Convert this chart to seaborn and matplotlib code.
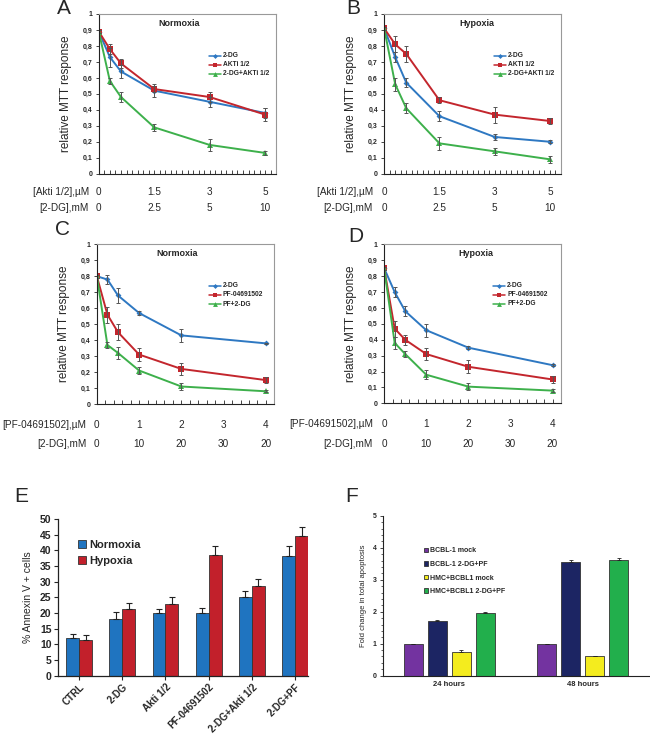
import numpy as np
import pandas as pd
import seaborn as sns
import matplotlib.pyplot as plt
from matplotlib.ticker import FuncFormatter, MultipleLocator
from matplotlib.transforms import blended_transform_factory

sns.set_style('ticks')
plt.rcParams['font.family'] = ['Liberation Sans', 'DejaVu Sans']

# panels A/B - Akti 1/2 titration
akt_x = [0, 0.2, 0.4, 1, 2, 3]
akt_names = ['2-DG', 'AKTi 1/2', '2-DG+AKTi 1/2']
a_2dg = [0.89, 0.73, 0.64, 0.52, 0.45, 0.38]
a_akti = [0.89, 0.78, 0.69, 0.53, 0.48, 0.37]
a_combo = [0.89, 0.58, 0.48, 0.29, 0.18, 0.13]
a_2dg_err = [0.01, 0.06, 0.04, 0.04, 0.03, 0.03]
a_akti_err = [0.01, 0.03, 0.03, 0.02, 0.03, 0.04]
a_combo_err = [0.01, 0.02, 0.03, 0.02, 0.04, 0.01]
b_2dg = [0.91, 0.73, 0.57, 0.36, 0.23, 0.20]
b_akti = [0.91, 0.81, 0.75, 0.46, 0.37, 0.33]
b_combo = [0.91, 0.56, 0.41, 0.19, 0.14, 0.09]
b_2dg_err = [0.01, 0.03, 0.03, 0.03, 0.02, 0.01]
b_akti_err = [0.01, 0.05, 0.05, 0.02, 0.05, 0.02]
b_combo_err = [0.01, 0.04, 0.03, 0.04, 0.02, 0.02]
akt_row1 = ['0', '1.5', '3', '5']
akt_row2 = ['0', '2.5', '5', '10']
akt_row_x = [0, 1, 2, 3]

# panels C/D - PF-04691502 titration
pf_x = [0, 0.25, 0.5, 1, 2, 4]
pf_names = ['2-DG', 'PF-04691502', 'PF+2-DG']
c_2dg = [0.80, 0.78, 0.68, 0.57, 0.43, 0.38]
c_pf = [0.80, 0.56, 0.45, 0.31, 0.22, 0.15]
c_combo = [0.80, 0.37, 0.32, 0.21, 0.11, 0.08]
c_2dg_err = [0.01, 0.03, 0.045, 0.01, 0.04, 0.005]
c_pf_err = [0.01, 0.05, 0.05, 0.04, 0.04, 0.02]
c_combo_err = [0.01, 0.02, 0.04, 0.02, 0.02, 0.005]
d_2dg = [0.85, 0.70, 0.58, 0.46, 0.35, 0.24]
d_pf = [0.85, 0.47, 0.40, 0.31, 0.23, 0.15]
d_combo = [0.85, 0.38, 0.31, 0.18, 0.105, 0.08]
d_2dg_err = [0.01, 0.03, 0.03, 0.04, 0.01, 0.005]
d_pf_err = [0.01, 0.05, 0.03, 0.04, 0.04, 0.02]
d_combo_err = [0.01, 0.04, 0.02, 0.03, 0.02, 0.01]
pf_row1 = ['0', '1', '2', '3', '4']
pf_row2 = ['0', '10', '20', '30', '20']
pf_row_x = [0, 1, 2, 3, 4]

# panel E - annexin V
e_conds = ['CTRL', '2-DG', 'Akti 1/2', 'PF-04691502', '2-DG+Akti 1/2', '2-DG+PF']
e_norm = [12.0, 18.2, 20.0, 20.0, 25.0, 38.2]
e_hyp = [11.5, 21.2, 23.0, 38.5, 28.6, 44.5]
e_norm_err = [1.3, 2.0, 1.1, 1.6, 2.0, 3.2]
e_hyp_err = [1.5, 2.0, 2.2, 3.0, 2.1, 3.0]

# panel F - fold change in apoptosis
f_times = ['24 hours', '48 hours']
f_groups = ['BCBL-1 mock', 'BCBL-1 2-DG+PF', 'HMC+BCBL1 mock', 'HMC+BCBL1 2-DG+PF']
f_mock = [1.0, 1.0]
f_treat = [1.72, 3.57]
f_hmc_mock = [0.73, 0.61]
f_hmc_treat = [1.97, 3.62]
f_mock_err = [0.0, 0.0]
f_treat_err = [0.02, 0.05]
f_hmc_mock_err = [0.06, 0.02]
f_hmc_treat_err = [0.02, 0.06]

line_colors = ['#2E78C2', '#C3262D', '#3DB04B']
line_markers = ['D', 's', '^']
msizes = [3, 4, 4]

W, H = 650, 736
fig = plt.figure(figsize=(6.5, 7.36), dpi=100)


def letter(px, py, s):
    fig.text(px / W, 1 - py / H, s, fontsize=15, ha='center', va='center')


def comma(v, pos):
    if abs(v) < 1e-9:
        return '0'
    if abs(v - 1) < 1e-9:
        return '1'
    return ('%.1f' % v).replace('.', ',')


def mtt_panel(rect, x, names, ys, errs, title, tx, xmax, tstep, row_x, rlab1, row1, rlab2, row2, ry, lab_right, lpos):
    ax = fig.add_axes(rect)
    df = pd.DataFrame({'x': x * 3, 'y': sum(ys, []),
                       'name': np.repeat(names, len(x))})
    sns.lineplot(data=df, x='x', y='y', hue='name', style='name', palette=line_colors,
                 markers=line_markers, dashes=False, lw=1.4, ax=ax, legend=False,
                 markeredgewidth=0)
    for line, ms in zip(ax.lines, msizes):
        line.set_markersize(ms)
    for yv, ev in zip(ys, errs):
        ax.errorbar(x, yv, yerr=ev, fmt='none', ecolor='#555555', elinewidth=0.7, capsize=1.6, capthick=0.7)
    ax.set_xlim(0, xmax)
    ax.set_ylim(0, 1)
    ax.set_xlabel('')
    ax.set_ylabel('relative MTT response', fontsize=8.5, labelpad=8)
    ax.yaxis.set_major_locator(MultipleLocator(0.1))
    ax.yaxis.set_major_formatter(FuncFormatter(comma))
    ax.set_xticks(np.arange(0, xmax + 0.01, tstep))
    ax.set_xticklabels([])
    ax.tick_params(axis='x', direction='in', length=3, width=0.6)
    ax.tick_params(axis='y', direction='out', length=2.5, width=0.6, pad=2)
    for t in ax.get_yticklabels():
        t.set_fontsize(5)
        t.set_fontweight('bold')
    for s in ['left', 'bottom']:
        ax.spines[s].set_color('#222222')
        ax.spines[s].set_linewidth(0.8)
    for s in ['right', 'top']:
        ax.spines[s].set_color('#999999')
        ax.spines[s].set_linewidth(0.8)
    ax.text(tx, 0.94, title, transform=ax.transAxes, ha='center', va='center',
            fontsize=6.5, fontweight='bold')
    # legend
    for i, (nm, c, mk, ms) in enumerate(zip(names, line_colors, line_markers, msizes)):
        yy = lpos[1] - i * 0.057
        ax.plot([lpos[0], lpos[0] + 0.07], [yy, yy], color=c, lw=1.1, transform=ax.transAxes)
        ax.plot([lpos[0] + 0.035], [yy], marker=mk, color=c, ms=ms - 0.5, mew=0, transform=ax.transAxes)
        ax.text(lpos[0] + 0.08, yy, nm, transform=ax.transAxes, fontsize=4.8, fontweight='bold',
                va='center', ha='left')
    tr = blended_transform_factory(ax.transData, fig.transFigure)
    for xv, t1, t2 in zip(row_x, row1, row2):
        fig.text(xv, ry[0], t1, transform=tr, ha='center', va='center', fontsize=7.2)
        fig.text(xv, ry[1], t2, transform=tr, ha='center', va='center', fontsize=7.2)
    fig.text(lab_right, ry[0], rlab1, ha='right', va='center', fontsize=7.2)
    fig.text(lab_right, ry[1], rlab2, ha='right', va='center', fontsize=7.2)
    return ax


mtt_panel([0.152, 0.764, 0.273, 0.217], akt_x, akt_names, [a_2dg, a_akti, a_combo],
          [a_2dg_err, a_akti_err, a_combo_err], 'Normoxia', 0.45, 3.2, 0.1, akt_row_x,
          '[Akti 1/2],\u00b5M', akt_row1, '[2-DG],mM', akt_row2, (1 - 192 / H, 1 - 208 / H),
          0.137, (0.62, 0.74))
mtt_panel([0.591, 0.764, 0.272, 0.217], akt_x, akt_names, [b_2dg, b_akti, b_combo],
          [b_2dg_err, b_akti_err, b_combo_err], 'Hypoxia', 0.525, 3.2, 0.1, akt_row_x,
          '[Akti 1/2],\u00b5M', akt_row1, '[2-DG],mM', akt_row2, (1 - 192 / H, 1 - 208 / H),
          0.574, (0.62, 0.74))
mtt_panel([0.149, 0.451, 0.273, 0.217], pf_x, pf_names, [c_2dg, c_pf, c_combo],
          [c_2dg_err, c_pf_err, c_combo_err], 'Normoxia', 0.45, 4.2, 0.2, pf_row_x,
          '[PF-04691502],\u00b5M', pf_row1, '[2-DG],mM', pf_row2, (1 - 425 / H, 1 - 444 / H),
          0.133, (0.63, 0.74))
mtt_panel([0.591, 0.452, 0.272, 0.216], pf_x, pf_names, [d_2dg, d_pf, d_combo],
          [d_2dg_err, d_pf_err, d_combo_err], 'Hypoxia', 0.52, 4.2, 0.2, pf_row_x,
          '[PF-04691502],\u00b5M', pf_row1, '[2-DG],mM', pf_row2, (1 - 424 / H, 1 - 444 / H),
          0.574, (0.615, 0.74))
letter(64, 9, 'A')
letter(353, 9, 'B')
letter(62, 229, 'C')
letter(356, 236, 'D')

# panel E
ax_e = fig.add_axes([0.089, 0.082, 0.385, 0.213])
df_e = pd.DataFrame({'cond': e_conds * 2, 'pct': e_norm + e_hyp,
                     'state': ['Normoxia'] * len(e_conds) + ['Hypoxia'] * len(e_conds)})
sns.barplot(data=df_e, x='cond', y='pct', hue='state', palette=['#1F74C0', '#C2202B'],
            saturation=1, width=0.6, errorbar=None, edgecolor='#333333', linewidth=0.6, ax=ax_e)
for cont, err in zip(ax_e.containers, [e_norm_err, e_hyp_err]):
    xs = [b.get_x() + b.get_width() / 2 for b in cont]
    hs = [b.get_height() for b in cont]
    ax_e.errorbar(xs, hs, yerr=[np.zeros(len(err)), err], fmt='none', ecolor='#222222',
                  elinewidth=0.8, capsize=2, capthick=0.8)
ax_e.set_xlim(-0.49, 5.3)
ax_e.set_ylim(0, 50)
ax_e.yaxis.set_major_locator(MultipleLocator(5))
ax_e.set_xlabel('')
ax_e.set_ylabel('% Annexin V + cells', fontsize=7.5, labelpad=5)
ax_e.tick_params(axis='both', length=3, width=0.8, pad=1.5)
ax_e.set_xticks(range(len(e_conds)))
ax_e.set_xticklabels(e_conds, rotation=45, ha='right', rotation_mode='anchor', fontsize=7,
                     fontweight='bold')
for t in ax_e.get_yticklabels():
    t.set_fontsize(7.5)
    t.set_fontweight('bold')
sns.despine(ax=ax_e)
for s in ['left', 'bottom']:
    ax_e.spines[s].set_color('#222222')
    ax_e.spines[s].set_linewidth(0.9)
ax_e.legend(loc='upper left', bbox_to_anchor=(0.06, 0.9), frameon=False,
            prop={'weight': 'bold', 'size': 8}, handlelength=0.7, handleheight=0.7,
            handletextpad=0.3, labelspacing=0.5, borderpad=0)
letter(21, 497, 'E')

# panel F
ax_f = fig.add_axes([0.589, 0.082, 0.41, 0.217])
df_f = pd.DataFrame({'time': f_times * 4, 'fold': f_mock + f_treat + f_hmc_mock + f_hmc_treat,
                     'group': np.repeat(f_groups, 2)})
sns.barplot(data=df_f, x='time', y='fold', hue='group',
            palette=['#7333A0', '#1C2563', '#F4EC1E', '#22AF4C'], saturation=1, width=0.72, gap=0.22,
            errorbar=None, edgecolor='#333333', linewidth=0.6, ax=ax_f)
for cont, err in zip(ax_f.containers, [f_mock_err, f_treat_err, f_hmc_mock_err, f_hmc_treat_err]):
    xs = [b.get_x() + b.get_width() / 2 for b in cont]
    hs = [b.get_height() for b in cont]
    ax_f.errorbar(xs, hs, yerr=[np.zeros(len(err)), err], fmt='none', ecolor='#222222',
                  elinewidth=0.6, capsize=1.3, capthick=0.6)
ax_f.set_xlim(-0.5, 1.5)
ax_f.set_ylim(0, 5)
ax_f.yaxis.set_major_locator(MultipleLocator(1))
ax_f.yaxis.set_minor_locator(MultipleLocator(0.2))
ax_f.set_xlabel('')
ax_f.set_ylabel('Fold change in total apoptosis', fontsize=5.5, labelpad=4)
ax_f.tick_params(axis='y', which='major', length=2.5, width=0.6, pad=2, labelsize=5)
ax_f.tick_params(axis='y', which='minor', length=1.5, width=0.5)
ax_f.tick_params(axis='x', length=0, pad=4, labelsize=5.5)
for t in ax_f.get_yticklabels() + ax_f.get_xticklabels():
    t.set_fontweight('bold')
sns.despine(ax=ax_f)
for s in ['left', 'bottom']:
    ax_f.spines[s].set_color('#222222')
    ax_f.spines[s].set_linewidth(0.8)
ax_f.legend(loc='upper left', bbox_to_anchor=(0.14, 0.825), frameon=False,
            prop={'weight': 'bold', 'size': 5}, handlelength=0.6, handleheight=0.6,
            handletextpad=0.3, labelspacing=0.95, borderpad=0)
letter(352, 497, 'F')

fig.savefig('out.png', dpi=100)
